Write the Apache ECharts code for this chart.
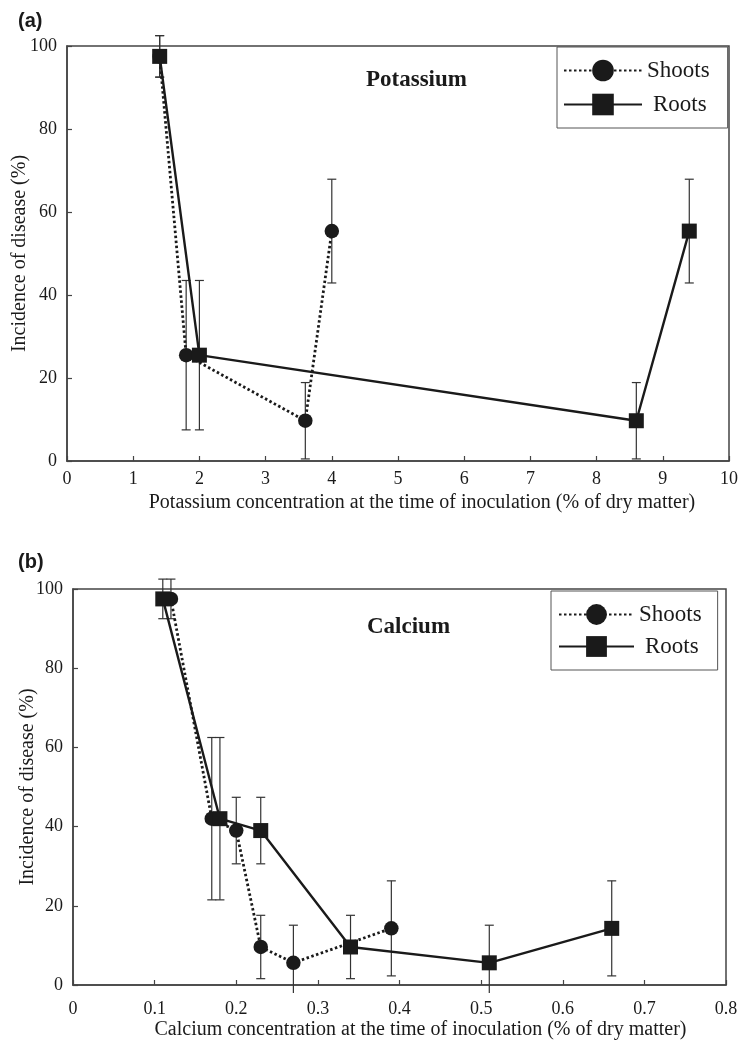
<!DOCTYPE html>
<html>
<head>
<meta charset="utf-8">
<script src="https://cdn.jsdelivr.net/npm/echarts@6/dist/echarts.min.js"></script>
<style>
  html, body { margin: 0; padding: 0; background: #fff; }
  #chart { width: 739px; height: 1041px; }
</style>
</head>
<body>
<div id="chart"></div>
<script>
// Panel (a): disease incidence against potassium concentration
const potassiumShootsX = [1.4, 1.8, 3.6, 4.0];
const potassiumRootsX = [1.4, 2.0, 8.6, 9.4];
const potassiumIncidence = [97.5, 25.5, 9.7, 55.4];
const potassiumError = [5, 18, 9.2, 12.5];
const potassiumTicks = [0, 1, 2, 3, 4, 5, 6, 7, 8, 9, 10];

// Panel (b): disease incidence against calcium concentration
const calciumShootsX = [0.12, 0.17, 0.20, 0.23, 0.27, 0.39];
const calciumRootsX = [0.11, 0.18, 0.23, 0.34, 0.51, 0.66];
const calciumIncidence = [97.5, 42, 39, 9.6, 5.6, 14.3];
const calciumError = [5, 20.5, 8.4, 8, 9.5, 12];
const calciumTicks = [0, 0.1, 0.2, 0.3, 0.4, 0.5, 0.6, 0.7, 0.8];

const incidenceTicks = [0, 20, 40, 60, 80, 100];

const SERIF = '"Liberation Serif", "Times New Roman", serif';
const SANS = '"Liberation Sans", Arial, sans-serif';
const INK = '#1a1a1a';
const AXIS = '#444';
const BAR_FLOOR = -2; // lower whiskers stop just under the x axis

function points(xs, ys) {
  return xs.map((x, i) => [x, ys[i]]);
}
function bars(xs, ys, errs) {
  return xs.map((x, i) => [x, ys[i] - errs[i], ys[i] + errs[i]]);
}

function errorBarItem(params, api) {
  const x = api.value(0);
  const lo = api.value(1);
  const hi = api.value(2);
  const top = api.coord([x, hi]);
  const bottom = api.coord([x, Math.max(lo, BAR_FLOOR)]);
  const half = 4.5;
  const style = { stroke: '#333', lineWidth: 1.2 };
  const children = [
    { type: 'line', shape: { x1: top[0], y1: top[1], x2: bottom[0], y2: bottom[1] }, style },
    { type: 'line', shape: { x1: top[0] - half, y1: top[1], x2: top[0] + half, y2: top[1] }, style }
  ];
  if (lo >= 0) {
    children.push({ type: 'line', shape: { x1: bottom[0] - half, y1: bottom[1], x2: bottom[0] + half, y2: bottom[1] }, style });
  }
  return { type: 'group', children };
}

function xAxisFor(gridIndex, ticks, name, labelMargin, nameGap, shift) {
  return {
    type: 'value',
    gridIndex,
    min: ticks[0],
    max: ticks[ticks.length - 1],
    interval: ticks[1] - ticks[0],
    name,
    nameLocation: 'middle',
    nameGap,
    nameMoveOverlap: false,
    nameTextStyle: { fontFamily: SERIF, fontSize: 20, color: INK, padding: [0, 0, 0, shift] },
    axisLine: { show: true, onZero: false, lineStyle: { color: AXIS, width: 1.5 } },
    axisTick: { show: true, inside: true, length: 5, lineStyle: { color: AXIS, width: 1.2 } },
    axisLabel: {
      fontFamily: SERIF, fontSize: 18, color: INK, margin: labelMargin,
      formatter: v => String(+v.toFixed(2))
    },
    splitLine: { show: false }
  };
}

function yAxisFor(gridIndex, nameGap) {
  return {
    type: 'value',
    gridIndex,
    min: incidenceTicks[0],
    max: incidenceTicks[incidenceTicks.length - 1],
    interval: incidenceTicks[1] - incidenceTicks[0],
    name: 'Incidence of disease (%)',
    nameLocation: 'middle',
    nameGap,
    nameMoveOverlap: false,
    nameTextStyle: { fontFamily: SERIF, fontSize: 20, color: INK },
    axisLine: { show: true, lineStyle: { color: AXIS, width: 1.5 } },
    axisTick: { show: true, inside: true, length: 5, lineStyle: { color: AXIS, width: 1.2 } },
    axisLabel: { fontFamily: SERIF, fontSize: 18, color: INK, margin: 10 },
    splitLine: { show: false }
  };
}

function shootsSeries(idx, data) {
  return {
    name: 'Shoots', type: 'line', xAxisIndex: idx, yAxisIndex: idx,
    data, symbol: 'circle', symbolSize: 14.5, clip: false, z: 3,
    lineStyle: { color: INK, width: 2.8, type: [2.5, 2.5] },
    itemStyle: { color: INK, borderWidth: 0 },
    emphasis: { disabled: true }
  };
}
function rootsSeries(idx, data) {
  return {
    name: 'Roots', type: 'line', xAxisIndex: idx, yAxisIndex: idx,
    data, symbol: 'rect', symbolSize: 15, clip: false, z: 4,
    lineStyle: { color: INK, width: 2.4, type: 'solid' },
    itemStyle: { color: INK, borderWidth: 0 },
    emphasis: { disabled: true }
  };
}
function barSeries(idx, data) {
  return {
    type: 'custom', xAxisIndex: idx, yAxisIndex: idx,
    data, renderItem: errorBarItem, encode: { x: 0, y: [1, 2] },
    clip: false, z: 2, silent: true
  };
}

function legendFor(left, top, padding, itemWidth, itemHeight, itemGap) {
  return {
    orient: 'vertical', left, top, padding, itemWidth, itemHeight, itemGap,
    borderColor: '#555', borderWidth: 1, backgroundColor: '#fff',
    selectedMode: false,
    data: [{ name: 'Shoots' }, { name: 'Roots', textStyle: { padding: [0, 0, 0, 6] } }],
    textStyle: { fontFamily: SERIF, fontSize: 23, color: INK }
  };
}

const chart = echarts.init(document.getElementById('chart'), null, { renderer: 'canvas' });

chart.setOption({
  animation: false,
  backgroundColor: '#fff',
  title: [
    { text: '(a)', left: 18, top: 11, padding: 0, textStyle: { fontFamily: SANS, fontWeight: 'bold', fontSize: 20, color: INK } },
    { text: 'Potassium', left: 366, top: 69, padding: 0, textStyle: { fontFamily: SERIF, fontWeight: 'bold', fontSize: 23, color: INK } },
    { text: '(b)', left: 18, top: 552, padding: 0, textStyle: { fontFamily: SANS, fontWeight: 'bold', fontSize: 20, color: INK } },
    { text: 'Calcium', left: 367, top: 616, padding: 0, textStyle: { fontFamily: SERIF, fontWeight: 'bold', fontSize: 23, color: INK } }
  ],
  legend: [
    legendFor(557, 47, [12, 18, 12, 6], 78, 27, 11),
    legendFor(551, 591, [12, 16, 12, 7], 75, 26, 9)
  ],
  grid: [
    { left: 67, top: 46, width: 662, height: 415, outerBoundsMode: 'none', containLabel: false,
      show: true, borderColor: AXIS, borderWidth: 1.5, backgroundColor: 'transparent' },
    { left: 73, top: 589, width: 653, height: 396, outerBoundsMode: 'none', containLabel: false,
      show: true, borderColor: AXIS, borderWidth: 1.5, backgroundColor: 'transparent' }
  ],
  xAxis: [
    xAxisFor(0, potassiumTicks, 'Potassium concentration at the time of inoculation (% of dry matter)', 9, 32, 48),
    xAxisFor(1, calciumTicks, 'Calcium concentration at the time of inoculation (% of dry matter)', 15, 35, 42)
  ],
  yAxis: [
    yAxisFor(0, 37),
    yAxisFor(1, 35)
  ],
  series: [
    barSeries(0, bars(potassiumShootsX, potassiumIncidence, potassiumError)),
    barSeries(0, bars(potassiumRootsX, potassiumIncidence, potassiumError)),
    shootsSeries(0, points(potassiumShootsX, potassiumIncidence)),
    rootsSeries(0, points(potassiumRootsX, potassiumIncidence)),
    barSeries(1, bars(calciumShootsX, calciumIncidence, calciumError)),
    barSeries(1, bars(calciumRootsX, calciumIncidence, calciumError)),
    shootsSeries(1, points(calciumShootsX, calciumIncidence)),
    rootsSeries(1, points(calciumRootsX, calciumIncidence))
  ]
});
</script>
</body>
</html>
